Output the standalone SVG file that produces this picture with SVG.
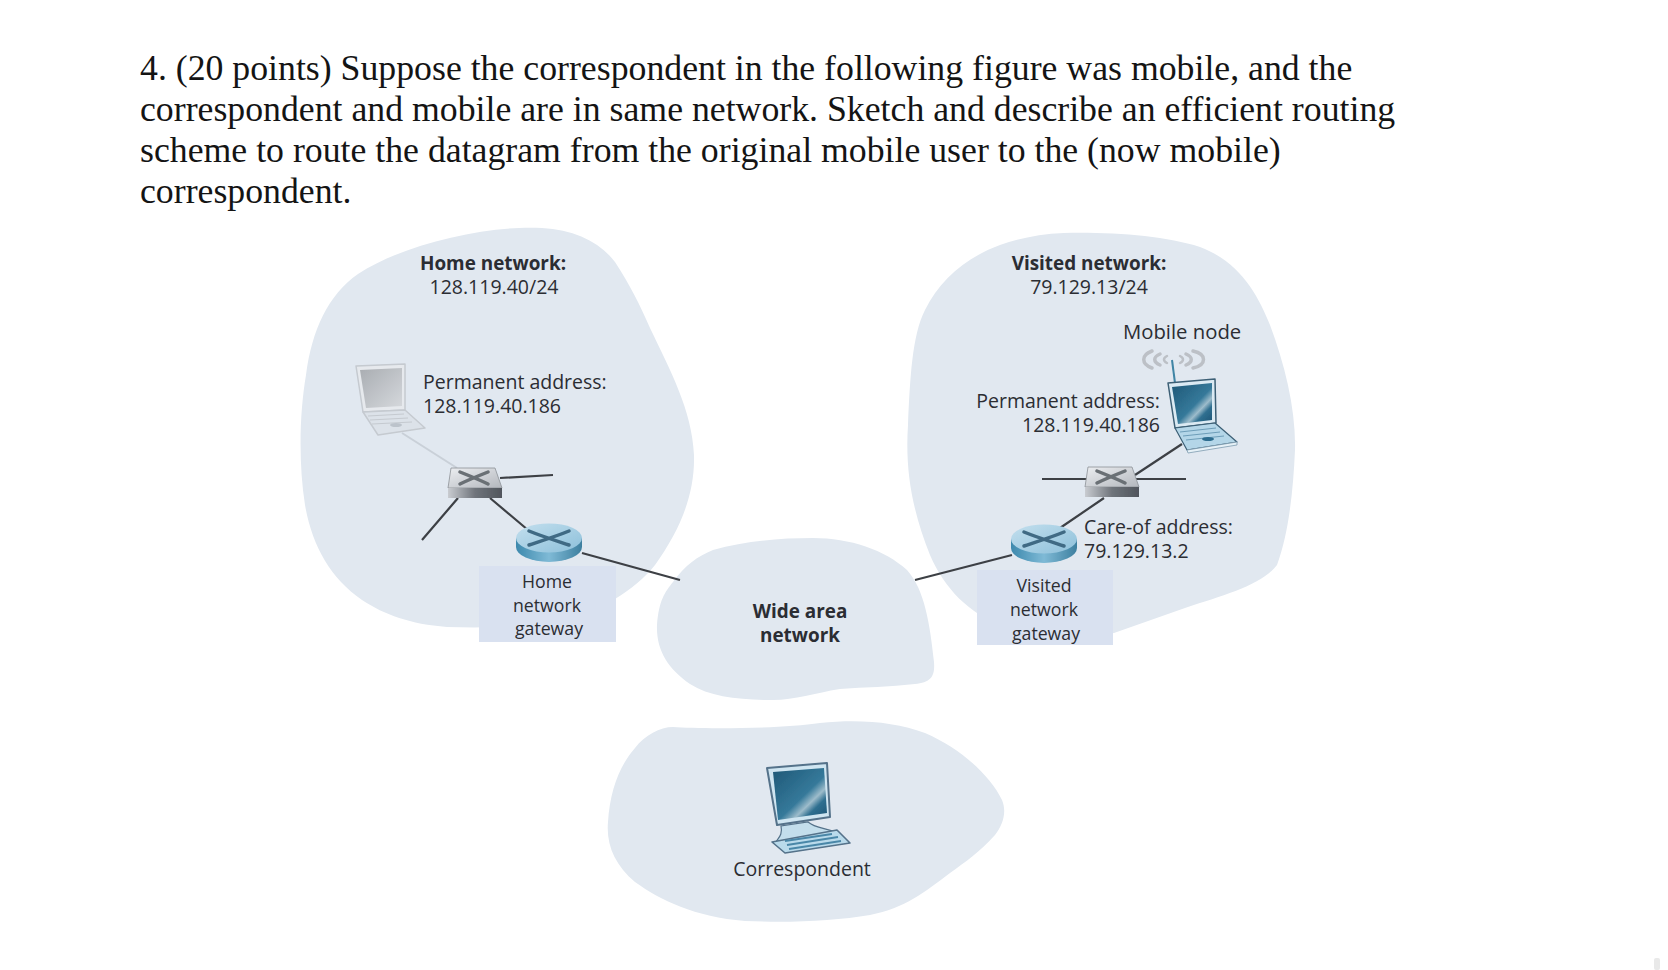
<svg xmlns="http://www.w3.org/2000/svg" width="1668" height="970" viewBox="0 0 1668 970">
<style>
.q{font-family:"Liberation Serif","Times New Roman",serif;font-size:35.75px;fill:#141414}
.t{font-family:"Open Sans","Noto Sans",sans-serif;font-size:19.5px;fill:#2b2d33}
.s{font-size:17.7px}
.b{font-weight:700;font-size:18.9px}
.m{text-anchor:middle}
.e{text-anchor:end}
.blob{fill:#e1e8f0}
.box{fill:#d9e1f0}
.l{fill:none;stroke:#3d4045;stroke-width:2.2}
.x{fill:none;stroke:#3f6a84;stroke-width:3.5;stroke-linecap:round}
.sx{fill:none;stroke:#6a6f75;stroke-width:3.5;stroke-linecap:round}
.soft{filter:url(#soft)}
</style>
<defs>
<filter id="soft" x="-10%" y="-10%" width="120%" height="120%"><feGaussianBlur stdDeviation="0.5"/></filter>
<linearGradient id="rs" x1="0" x2="1" y1="0" y2="0"><stop offset="0" stop-color="#3d89ad"/><stop offset=".5" stop-color="#7fbad6"/><stop offset="1" stop-color="#3d7f9f"/></linearGradient>
<linearGradient id="rt" x1="0" x2="1" y1="0" y2="1"><stop offset="0" stop-color="#c3dfee"/><stop offset="1" stop-color="#8dc0da"/></linearGradient>
<linearGradient id="ss" x1="0" x2="1" y1="0" y2="0"><stop offset="0" stop-color="#c9ccd1"/><stop offset=".5" stop-color="#6f747b"/><stop offset="1" stop-color="#50555c"/></linearGradient>
<linearGradient id="st" x1="0" x2="1" y1="0" y2="1"><stop offset="0" stop-color="#eceef1"/><stop offset="1" stop-color="#b3b7bd"/></linearGradient>
<linearGradient id="scr" x1="0" x2="1" y1="0" y2="1"><stop offset="0" stop-color="#1f5877"/><stop offset=".55" stop-color="#35799a"/><stop offset=".68" stop-color="#9dbccb"/><stop offset=".78" stop-color="#2f6f90"/><stop offset="1" stop-color="#1d5474"/></linearGradient>
<linearGradient id="gscr" x1="0" x2="1" y1="0" y2="1"><stop offset="0" stop-color="#a9adb2"/><stop offset="1" stop-color="#d5d8dc"/></linearGradient>
<g id="router">
<path d="M-33 -7V2A33 15 0 0 0 33 2V-7Z" fill="url(#rs)"/>
<ellipse cx="0" cy="-7" rx="33" ry="14.5" fill="url(#rt)"/>
<path class="x" d="M-20 -14C-8 -9 8 -4 20 0M20 -14C8 -9 -8 -4 -20 0"/>
</g>
<g id="switch">
<path d="M3 0H47L54 20H0Z" fill="url(#st)" stroke="#8b9096" stroke-width=".8"/>
<path d="M0 20H54V30H0Z" fill="url(#ss)"/>
<path class="sx" d="M12 4C22 8 32 12 40 16M40 4C30 8 20 12 12 16"/>
</g>
</defs>
<rect width="1668" height="970" fill="#ffffff"/>
<rect x="1654" y="958" width="6" height="12" rx="2" fill="#e9e9e9"/>
<g id="question">
<text class="q" x="140" y="80">4. (20 points) Suppose the correspondent in the following figure was mobile, and the</text>
<text class="q" x="140" y="121">correspondent and mobile are in same network. Sketch and describe an efficient routing</text>
<text class="q" x="140" y="162">scheme to route the datagram from the original mobile user to the (now mobile)</text>
<text class="q" x="140" y="203">correspondent.</text>
</g>
<g id="clouds">
<path class="blob" d="M542 228C575 230 600 242 615 262C630 285 640 305 650 328C670 370 692 410 694 455C695 495 680 530 655 565C635 590 600 612 560 620C520 628 480 628 447 627C410 624 385 615 362 600C330 578 312 545 305 505C298 460 300 410 306 375C312 330 328 295 358 274C405 243 490 225 542 228Z"/>
<path class="blob" d="M1064 233C1115 232 1165 236 1200 247C1240 262 1258 295 1270 325C1285 365 1296 410 1295 450C1293 495 1288 535 1277 565C1262 585 1225 595 1185 608L1114 633C1080 640 1030 635 1000 625C970 613 945 590 930 555C912 510 905 470 908 425C910 380 912 335 925 310C940 280 965 258 1000 245C1020 238 1040 234 1064 233Z"/>
<path class="blob" d="M813 538C850 538 885 550 907 570C925 590 930 625 934 662C935 677 931 682 915 684C890 687 865 687 840 689C815 693 795 700 773 700C740 700 710 697 690 684C668 669 656 650 657 625C659 600 665 592 673 582C685 565 698 556 713 550C745 541 780 538 813 538Z"/>
<path class="blob" d="M673 727C700 729 780 729 820 723C860 719 895 722 925 733C960 748 990 775 1002 800C1007 812 1003 825 995 835C980 852 965 862 950 873C925 892 905 908 870 915C835 921 790 923 745 921C695 917 660 900 635 882C615 865 606 845 608 822C610 790 620 765 635 748C645 735 660 727 673 727Z"/>
</g>
<g id="connectors">
<path d="M402 433L457 468" fill="none" stroke="#c9d0d8" stroke-width="2"/>
<path class="l" d="M500 478L553 475M458 498L422 540M490 498L528 530M582 553L680 580"/>
<path class="l" d="M1182 444L1135 475M1042 479H1186M1104 498L1060 528M1012 555L915 580"/>
</g>
<g id="home-laptop" class="soft">
<path d="M356 366L405 364L405 410L363 412Z" fill="#e6e9ed" stroke="#c5cad0" stroke-width="1.5" stroke-linejoin="round"/>
<path d="M360 370L402 368V406L366 408Z" fill="url(#gscr)"/>
<path d="M363 412L405 410L425 428L378 435Z" fill="#dce2e9" stroke="#c5cad0" stroke-width="1.5" stroke-linejoin="round"/>
<path d="M368 416L404 414M370 420L408 418M372 424L412 422" stroke="#c5cad0" fill="none"/>
<ellipse cx="396" cy="425" rx="6" ry="2" fill="#bcc3cb"/>
</g>
<g id="home-switch" class="soft"><use href="#switch" x="448" y="468"/></g>
<g id="home-router" class="soft"><use href="#router" x="549" y="545"/></g>
<g id="home-gateway">
<rect class="box" x="479" y="566" width="137" height="76"/>
<text class="t s m" x="547" y="588">Home</text>
<text class="t s m" x="547" y="612">network</text>
<text class="t s m" x="549" y="635">gateway</text>
</g>
<g id="home-label">
<text class="t b m" x="493" y="270">Home network:</text>
<text class="t m" x="494" y="294">128.119.40/24</text>
<text class="t" x="423" y="389">Permanent address:</text>
<text class="t" x="423" y="413">128.119.40.186</text>
</g>
<g id="mobile-node" class="soft">
<g fill="none" stroke="#bcc0c6" stroke-linecap="round">
<path stroke-width="3.5" d="M1152 351C1141 355 1141 364 1152 368M1160 354C1153 357 1153 362 1160 365"/>
<path stroke-width="3.5" d="M1193 351C1207 354 1207 365 1193 368M1186 354C1193 357 1193 362 1186 365"/>
<path stroke-width="2.5" d="M1167 356C1163 358 1163 361 1167 363M1180 356C1184 358 1184 361 1180 363"/>
</g>
<path d="M1172 360L1175 383" stroke="#3f85a5" stroke-width="2" fill="none"/>
<path d="M1168 383L1215 379L1216 423L1175 428Z" fill="#dbeaf3" stroke="#3c5f75" stroke-width="1.5" stroke-linejoin="round"/>
<path d="M1172 387L1212 383V420L1178 424Z" fill="url(#scr)"/>
<path d="M1175 428L1215 423L1237 442L1187 450Z" fill="#b4d6e8" stroke="#3c5f75" stroke-width="1.2" stroke-linejoin="round"/>
<path d="M1180 432L1216 428M1183 436L1220 432M1186 440L1224 436" stroke="#6d9db8" fill="none"/>
<path d="M1187 450L1237 442V445L1188 453Z" fill="#e6f1f7" stroke="#7d9cb0" stroke-width=".8"/>
<ellipse cx="1208" cy="439" rx="6" ry="2" fill="#2d6d8f"/>
</g>
<g id="visited-switch" class="soft"><use href="#switch" x="1085" y="467"/></g>
<g id="visited-router" class="soft"><use href="#router" x="1044" y="546"/></g>
<g id="visited-gateway">
<rect class="box" x="977" y="570" width="136" height="75"/>
<text class="t s m" x="1044" y="592">Visited</text>
<text class="t s m" x="1044" y="616">network</text>
<text class="t s m" x="1046" y="640">gateway</text>
</g>
<g id="visited-label">
<text class="t b m" x="1089" y="270">Visited network:</text>
<text class="t m" x="1089" y="294">79.129.13/24</text>
<text class="t" x="1123" y="339" style="font-size:20.3px">Mobile node</text>
<text class="t e" x="1160" y="408">Permanent address:</text>
<text class="t e" x="1160" y="432">128.119.40.186</text>
<text class="t" x="1084" y="534">Care-of address:</text>
<text class="t" x="1084" y="558">79.129.13.2</text>
</g>
<g id="wan">
<text class="t b m" x="800" y="618">Wide area</text>
<text class="t b m" x="800" y="642">network</text>
</g>
<g id="correspondent">
<g class="soft">
<path d="M781 826C783 835 778 838 776 842L835 832C825 828 815 828 808 822Z" fill="#c3deec" stroke="#54728a" stroke-width="1.2"/>
<path d="M767 768L827 763L830 817L777 825Z" fill="#cfe5f1" stroke="#54728a" stroke-width="2" stroke-linejoin="round"/>
<path d="M773 772L824 768L827 813L778 820Z" fill="url(#scr)"/>
<path d="M772 842L837 830L850 843L785 853Z" fill="#b9daeb" stroke="#54728a" stroke-width="1.6" stroke-linejoin="round"/>
<path d="M785 841L832 834M787 845L838 837M789 849L841 841" stroke="#4a87a8" stroke-width="1.8" fill="none"/>
</g>
<text class="t m" x="802" y="876">Correspondent</text>
</g>
</svg>
